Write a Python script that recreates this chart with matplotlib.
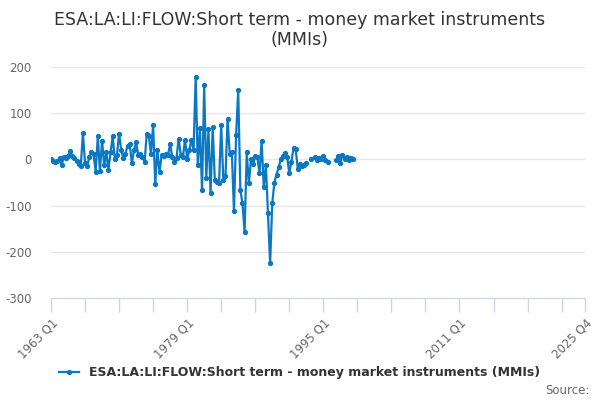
import numpy as np
import matplotlib
matplotlib.use("Agg")
import matplotlib.pyplot as plt

# quarterly flow values from 1963 Q1 (nan = no value reported)
nan = np.nan
values = [
    0, -4, -6, -3, 2, -12, 5, 4, 8, 18, 8, 2, -3, -10, -14,
    57, -8, -15, 5, 15, 12, -27, 50, -25, 40, -12, 15, -22, 15, 50, 0, 10,
    56, 20, 2, 12, 30, 33, -8, 20, 37, 10, 12, 5, -6, 56, 50, 12, 74,
    -53, 20, -28, 10, 8, 12, 10, 33, 5, -5, 3, 45, 10, 5, 43, 0, 20, 43, 20,
    178, -13, 67, -67, 160, -40, 65, -73, 70, -45, -48, -50, 75, -45, -37, 88,
    12, 15, -112, 52, 150, -67, -95, -157, 15, -52, 0, -10, 7, 5, -30, 40,
    -60, -13, -117, -225, -95, -50, -33, -17, 0, 8, 13, 5, -30, -5, 24, 22,
    -20, -10, -15, -13, -8, nan, 0, nan, 5, -2, 2, 0, 8, -2, -5,
    nan, nan, nan, -2, 8, -8, 10, 0, 5, -2, 2, 0,
]
start_year = 1963
last_label = "2025 Q4"
n_quarters = (2025 - start_year) * 4 + 3  # index of 2025 Q4

series_name = "ESA:LA:LI:FLOW:Short term - money market instruments (MMIs)"
yticks = [-300, -200, -100, 0, 100, 200]

line_color = "#0a78c2"
text_grey = "#666666"
axis_col = "#ccd6eb"

plt.rcParams['font.family'] = ['DejaVu Sans']

fig = plt.figure(figsize=(6, 4), dpi=100)
ax = fig.add_axes([0.085, 0.255, 0.89, 0.5775])

q = np.arange(len(values))
ax.plot(q, values, color=line_color, lw=1.6, marker="o", ms=2.8,
        label=series_name, zorder=3)

ax.set_xlim(0, n_quarters)
ax.set_ylim(-300, 200)

ax.set_yticks(yticks)
ax.set_yticklabels([str(v) for v in yticks])
ax.grid(axis="y", color="#e6e6e6", lw=1)
ax.set_axisbelow(True)

# x ticks every 4 years, labels every 16 years plus the end
tick_pos = list(range(0, n_quarters, 16)) + [n_quarters]
ax.set_xticks(tick_pos)
labels = []
for p in tick_pos:
    if p == n_quarters:
        labels.append(last_label)
    elif p % 64 == 0:
        labels.append(f"{start_year + p // 4} Q1")
    else:
        labels.append("")
ax.set_xticklabels(labels)

ax.tick_params(axis="x", direction="out", colors=axis_col, length=10, width=1,
               labelcolor=text_grey, labelsize=8.5, pad=3, labelrotation=45)
ax.tick_params(axis="y", length=0, labelcolor=text_grey, labelsize=8.5, pad=14)
for lab in ax.get_xticklabels():
    lab.set_horizontalalignment("right")
    lab.set_rotation_mode("anchor")

for s in ["top", "right", "left"]:
    ax.spines[s].set_visible(False)
ax.spines["bottom"].set_color(axis_col)

fig.text(0.5, 0.925, "ESA:LA:LI:FLOW:Short term - money market instruments\n(MMIs)",
         ha="center", va="center", fontsize=12.5, color="#333333", linespacing=1.2)

leg = fig.legend(loc="center", bbox_to_anchor=(0.5, 0.068), frameon=False,
                 handlelength=1.6, prop={"weight": "bold", "size": 9})
for t in leg.get_texts():
    t.set_color("#333333")

fig.text(0.982, 0.025, "Source:", ha="right", va="center", fontsize=8.5, color=text_grey)

fig.savefig("out.png", dpi=100)
